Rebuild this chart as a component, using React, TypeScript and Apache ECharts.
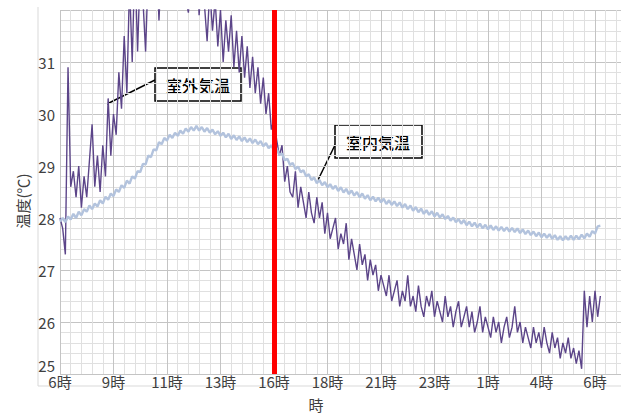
import React, { useEffect, useRef } from "react";
import * as echarts from "echarts";

// sampling step of the logger (hours)
const STEP = 0.12;
// x-axis tick labels (every 2.4 h from 6時)
const xLabels = ["6時", "9時", "11時", "13時", "16時", "18時", "21時", "23時", "1時", "4時", "6時"];
// time (hours from start) of the red marker line: 16時
const EVENT_TIME = 9.6;

// 室外気温 (outdoor air temperature, °C)
const outdoorTemp = [
  28.0, 27.8, 27.3, 30.9, 28.6, 28.9, 28.4, 29.0, 28.2, 28.8,
  28.4, 29.1, 29.8, 28.6, 29.2, 28.5, 29.4, 28.8, 30.3, 29.2,
  30.0, 29.6, 30.8, 30.1, 31.5, 30.4, 32.5, 31.0, 33.0, 31.2,
  32.8, 32.2, 31.2, 32.8, 33.5, 32.6, 33.2, 31.8, 33.0, 32.4,
  33.4, 32.6, 33.1, 32.3, 33.6, 32.5, 33.0, 32.2, 31.95, 32.8,
  32.3, 33.2, 31.9, 32.7, 32.1, 31.4, 32.4, 31.6, 32.2, 31.3,
  32.0, 31.0, 31.8, 31.2, 31.9, 30.9, 31.6, 30.8, 31.5, 30.7,
  31.3, 30.5, 31.1, 30.4, 30.9, 30.2, 30.7, 30.0, 30.4, 29.7,
  29.9, 29.5, 29.2, 29.4, 28.7, 29.0, 28.5, 28.4, 28.9, 28.2,
  28.6, 28.3, 28.0, 28.5, 28.1, 27.9, 28.4, 28.0, 28.3, 27.7,
  28.1, 27.6, 27.8, 28.0, 27.4, 27.7, 27.5, 27.9, 27.2, 27.6,
  27.3, 27.0, 27.5, 27.1, 27.3, 26.8, 27.2, 26.9, 27.1, 26.6,
  26.9, 26.7, 26.5, 26.9, 26.4, 26.6, 26.8, 26.3, 26.6, 26.4,
  26.9, 26.3, 26.5, 26.2, 26.7, 26.3, 26.1, 26.5, 26.3, 26.6,
  26.1, 26.4, 26.2, 26.0, 26.5, 26.1, 26.3, 25.9, 26.2, 26.4,
  25.9, 26.1, 26.3, 25.9, 26.2, 25.8, 26.0, 26.3, 25.8, 26.1,
  25.9, 25.7, 26.1, 25.8, 26.0, 25.6, 25.9, 26.1, 25.7, 25.9,
  26.3, 25.8, 26.0, 25.6, 25.9, 25.7, 25.5, 25.9, 25.6, 25.8,
  25.5, 25.9, 25.6, 25.4, 25.8, 25.5, 25.7, 25.3, 25.6, 25.4,
  25.7, 25.3, 25.5, 25.2, 25.45, 25.1, 26.6, 25.9, 26.5, 26.0,
  26.6, 26.1, 26.5,
];

// 室内気温 (indoor air temperature, °C)
const indoorTemp = [
  27.93, 28.0, 27.92, 28.03, 27.97, 28.08, 28.0, 28.12, 28.05, 28.17,
  28.12, 28.24, 28.17, 28.28, 28.22, 28.34, 28.28, 28.41, 28.35, 28.47,
  28.42, 28.55, 28.5, 28.63, 28.58, 28.72, 28.66, 28.8, 28.76, 28.9,
  28.88, 29.04, 29.03, 29.2, 29.17, 29.32, 29.3, 29.46, 29.42, 29.54,
  29.49, 29.6, 29.54, 29.64, 29.58, 29.68, 29.62, 29.72, 29.66, 29.75,
  29.68, 29.77, 29.68, 29.75, 29.66, 29.73, 29.64, 29.7, 29.61, 29.67,
  29.58, 29.64, 29.55, 29.62, 29.52, 29.59, 29.5, 29.57, 29.48, 29.55,
  29.46, 29.53, 29.44, 29.51, 29.42, 29.48, 29.38, 29.44, 29.34, 29.4,
  29.3, 29.34, 29.21, 29.24, 29.11, 29.14, 29.02, 29.06, 28.94, 28.99,
  28.88, 28.92, 28.8, 28.84, 28.73, 28.78, 28.67, 28.73, 28.63, 28.69,
  28.59, 28.65, 28.56, 28.62, 28.52, 28.59, 28.49, 28.56, 28.46, 28.53,
  28.43, 28.5, 28.4, 28.47, 28.37, 28.44, 28.34, 28.41, 28.32, 28.39,
  28.3, 28.37, 28.27, 28.34, 28.25, 28.32, 28.23, 28.3, 28.2, 28.27,
  28.17, 28.24, 28.14, 28.21, 28.11, 28.18, 28.08, 28.15, 28.06, 28.13,
  28.03, 28.1, 28.01, 28.07, 27.98, 28.04, 27.95, 28.01, 27.92, 27.98,
  27.89, 27.96, 27.86, 27.93, 27.84, 27.91, 27.82, 27.89, 27.8, 27.87,
  27.78, 27.86, 27.77, 27.84, 27.76, 27.83, 27.75, 27.82, 27.74, 27.81,
  27.73, 27.8, 27.71, 27.78, 27.69, 27.76, 27.67, 27.74, 27.65, 27.72,
  27.63, 27.7, 27.62, 27.69, 27.6, 27.67, 27.58, 27.65, 27.57, 27.65,
  27.58, 27.66, 27.58, 27.66, 27.59, 27.68, 27.61, 27.7, 27.64, 27.75,
  27.7, 27.84, 27.85,
];

const FONT = "'Noto Sans CJK JP', 'Noto Sans', sans-serif";

export default function App() {
  const ref = useRef<HTMLDivElement>(null);

  useEffect(() => {
    if (!ref.current) return;
    const chart = echarts.init(ref.current, undefined, { renderer: "svg" });

    const outdoorData = outdoorTemp.map((v, i) => [i * STEP, v]);
    const indoorData = indoorTemp.map((v, i) => [i * STEP, v]);

    const majorColor = "#c4c4c4";
    const minorColor = "#e0e0e0";
    const borderColor = "#d9d9d9";

    chart.setOption({
      animation: false,
      backgroundColor: "#ffffff",
      textStyle: { fontFamily: FONT },
      grid: {
        left: 60,
        top: 10,
        width: 588.5,
        height: 364,
        containLabel: false,
        outerBoundsMode: "none",
      },
      xAxis: {
        type: "value",
        min: 0,
        max: 26.4,
        interval: 2.4,
        axisLine: { show: false },
        axisTick: { show: false },
        axisLabel: {
          margin: 0,
          fontSize: 15,
          lineHeight: 15,
          color: "#404040",
          fontFamily: FONT,
          formatter: (v: number) => {
            const idx = Math.round(v / 2.4);
            if (Math.abs(idx * 2.4 - v) > 0.01) return "";
            return xLabels[idx] ?? "";
          },
        },
        splitLine: { show: true, lineStyle: { color: majorColor, width: 1 } },
        minorTick: { show: false, splitNumber: 5 },
        minorSplitLine: { show: true, lineStyle: { color: minorColor, width: 1 } },
      },
      yAxis: {
        type: "value",
        min: 25,
        max: 32,
        interval: 1,
        axisLine: { show: false },
        axisTick: { show: false },
        axisLabel: {
          margin: 5,
          fontSize: 15,
          lineHeight: 15,
          color: "#404040",
          fontFamily: FONT,
          showMaxLabel: false,
          verticalAlignMinLabel: "bottom",
          formatter: (v: number) => (v === 25 ? "{low|25}" : String(v)),
          rich: {
            low: {
              fontSize: 15,
              lineHeight: 15,
              color: "#404040",
              fontFamily: FONT,
              padding: [0, 0, 3, 0],
            },
          },
        },
        splitLine: { show: true, lineStyle: { color: majorColor, width: 1 } },
        minorTick: { show: false, splitNumber: 5 },
        minorSplitLine: { show: true, lineStyle: { color: minorColor, width: 1 } },
      },
      series: [
        {
          name: "室外気温",
          type: "line",
          data: outdoorData,
          showSymbol: false,
          symbol: "none",
          clip: true,
          lineStyle: { color: "#5c4589", width: 1.4 },
          z: 2,
        },
        {
          name: "室内気温",
          type: "line",
          data: indoorData,
          showSymbol: false,
          symbol: "none",
          clip: true,
          lineStyle: { color: "#b3c3dd", width: 2.4 },
          z: 3,
        },
        {
          name: "marker",
          type: "line",
          data: [],
          z: 5,
          markLine: {
            silent: true,
            symbol: ["none", "none"],
            label: { show: false },
            lineStyle: { color: "#ff0000", width: 5, type: "solid" },
            data: [{ xAxis: EVENT_TIME }],
          },
        },
      ],
      graphic: [
        {
          type: "line",
          shape: { x1: 38, y1: 7, x2: 38, y2: 386 },
          style: { stroke: borderColor, lineWidth: 1 },
        },
        {
          type: "line",
          shape: { x1: 38, y1: 386, x2: 621, y2: 386 },
          style: { stroke: borderColor, lineWidth: 1 },
        },
        {
          type: "text",
          x: 22,
          y: 201,
          rotation: Math.PI / 2,
          style: {
            text: "温度(℃)",
            font: `15px ${FONT}`,
            fill: "#404040",
            align: "center",
            verticalAlign: "middle",
          },
        },
        {
          type: "text",
          x: 316,
          y: 404,
          style: {
            text: "時",
            font: `15px ${FONT}`,
            fill: "#404040",
            align: "center",
            verticalAlign: "middle",
          },
        },
        {
          type: "line",
          shape: { x1: 155, y1: 80, x2: 107, y2: 104 },
          style: { stroke: "#000000", lineWidth: 1.5 },
        },
        {
          type: "rect",
          shape: { x: 155, y: 68, width: 86, height: 33 },
          style: { fill: "#ffffff", stroke: "#000000", lineWidth: 1.5 },
        },
        {
          type: "text",
          x: 198,
          y: 85,
          style: {
            text: "室外気温",
            font: `500 16px ${FONT}`,
            fill: "#000000",
            align: "center",
            verticalAlign: "middle",
          },
        },
        {
          type: "line",
          shape: { x1: 336, y1: 143, x2: 317, y2: 182 },
          style: { stroke: "#000000", lineWidth: 1.5 },
        },
        {
          type: "rect",
          shape: { x: 335, y: 125, width: 87, height: 33 },
          style: { fill: "#ffffff", stroke: "#000000", lineWidth: 1.5 },
        },
        {
          type: "text",
          x: 378,
          y: 142,
          style: {
            text: "室内気温",
            font: `500 16px ${FONT}`,
            fill: "#000000",
            align: "center",
            verticalAlign: "middle",
          },
        },
      ],
    });

    return () => {
      chart.dispose();
    };
  }, []);

  return (
    <div
      ref={ref}
      style={{ position: "absolute", left: 0, top: 0, width: 621, height: 414 }}
    />
  );
}
